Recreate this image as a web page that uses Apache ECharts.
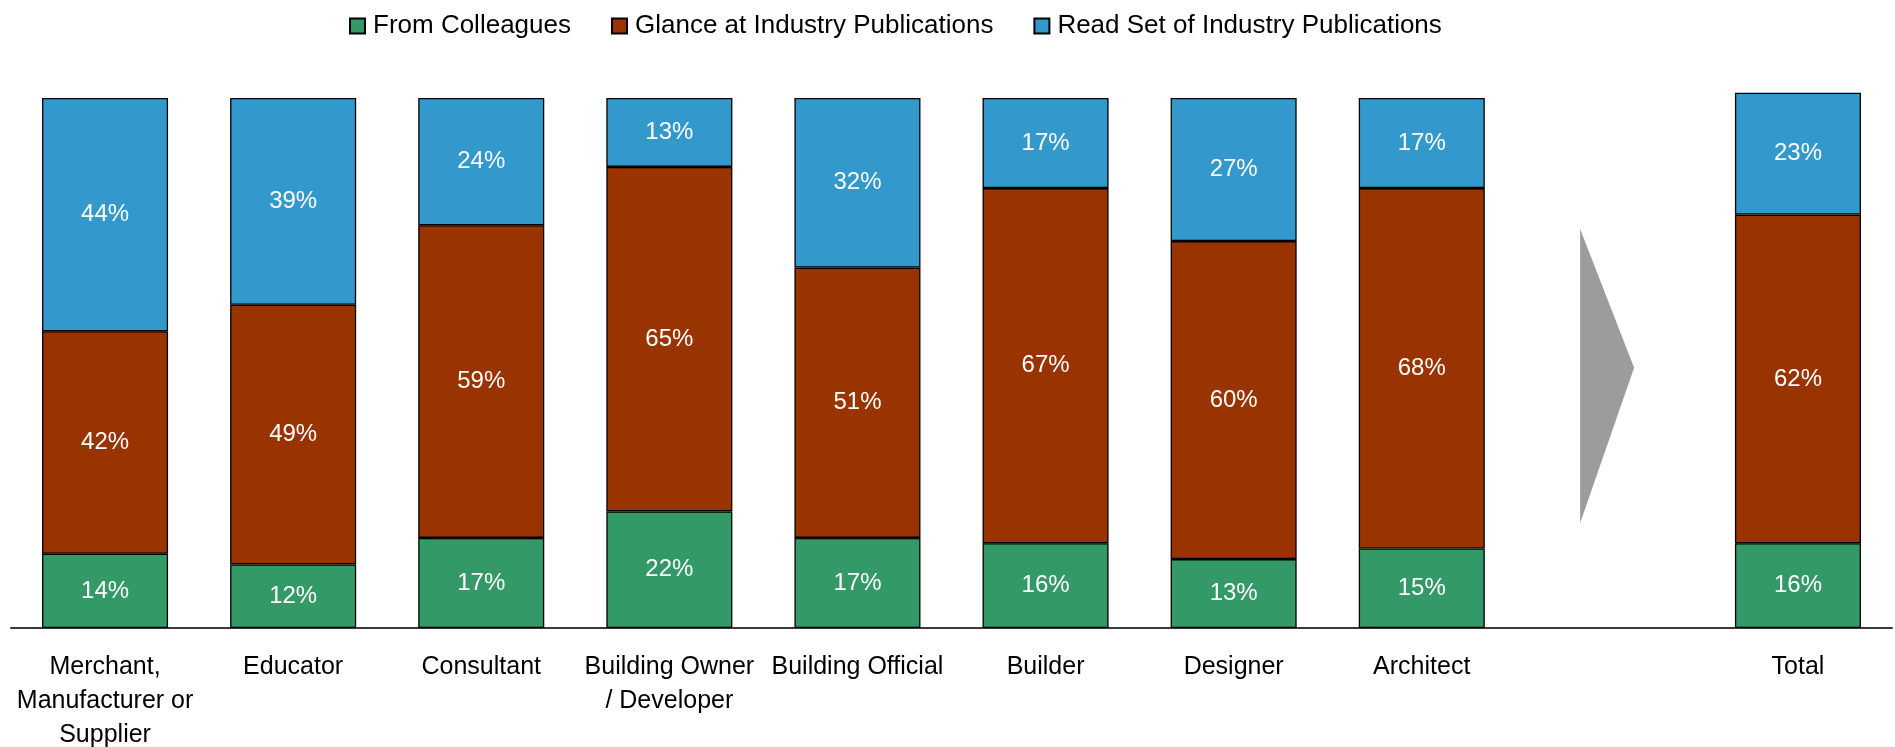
<!DOCTYPE html>
<html>
<head>
<meta charset="utf-8">
<script src="https://cdn.jsdelivr.net/npm/echarts@6/dist/echarts.min.js"></script>
<style>
  html, body { margin: 0; padding: 0; background: #ffffff; }
  #chart { width: 1895px; height: 747px; }
</style>
</head>
<body>
<div id="chart"></div>
<script>
// Where people learn about new products, by respondent type (share of each group)
const categories = [
  'Merchant,\nManufacturer or\nSupplier',
  'Educator',
  'Consultant',
  'Building Owner\n/ Developer',
  'Building Official',
  'Builder',
  'Designer',
  'Architect',
  '',
  'Total'
];
const fromColleagues = [14, 12, 17, 22, 17, 16, 13, 15, null, 16];
const glanceAtPublications = [42, 49, 59, 65, 51, 67, 60, 68, null, 62];
const readSetOfPublications = [44, 39, 24, 13, 32, 17, 27, 17, null, 23];

// The empty slot before "Total" holds a grey chevron pointing at the total bar
const arrowSlot = [[8, 50]];

const FONT = '"Liberation Sans", Arial, Helvetica, sans-serif';

const chart = echarts.init(document.getElementById('chart'), null, { renderer: 'canvas' });

function barSeries(name, data, color) {
  return {
    name: name,
    type: 'bar',
    stack: 'share',
    data: data,
    barWidth: '67%',
    clip: false,
    itemStyle: { color: color, borderColor: '#000000', borderWidth: 1.3 },
    label: {
      show: true,
      position: 'inside',
      color: '#ffffff',
      fontFamily: FONT,
      fontSize: 24,
      formatter: p => p.value + '%'
    },
    emphasis: { disabled: true }
  };
}

const option = {
  backgroundColor: '#ffffff',
  animation: false,
  textStyle: { fontFamily: FONT },
  legend: {
    left: 344,
    top: 8,
    itemWidth: 15,
    itemHeight: 15,
    itemGap: 40,
    icon: 'rect',
    textStyle: { fontFamily: FONT, fontSize: 26, color: '#000000', padding: [0, 0, 0, 3] },
    data: ['From Colleagues', 'Glance at Industry Publications', 'Read Set of Industry Publications']
  },
  grid: { left: 11, right: 3, top: 98, bottom: 119, containLabel: false, outerBoundsMode: 'none' },
  xAxis: {
    type: 'category',
    data: categories,
    axisTick: { show: false },
    axisLine: { show: true, lineStyle: { color: '#3a3a3a', width: 2 } },
    axisLabel: {
      interval: 0,
      margin: 22,
      color: '#000000',
      fontFamily: FONT,
      fontSize: 25,
      lineHeight: 34,
      align: 'center'
    }
  },
  yAxis: {
    type: 'value',
    min: 0,
    max: 100,
    show: false,
    splitLine: { show: false }
  },
  series: [
    barSeries('From Colleagues', fromColleagues, '#339966'),
    barSeries('Glance at Industry Publications', glanceAtPublications, '#993300'),
    barSeries('Read Set of Industry Publications', readSetOfPublications, '#3399cc'),
    {
      type: 'custom',
      silent: true,
      data: arrowSlot,
      encode: { x: 0, y: 1 },
      renderItem: function (params, api) {
        const idx = api.value(0);
        const band = api.size([1, 0])[0];
        const top = api.coord([idx, 75.3]);
        const bottom = api.coord([idx, 19.8]);
        const tip = api.coord([idx, 49.1]);
        const left = top[0] - band * 0.158;
        const right = top[0] + band * 0.129;
        return {
          type: 'polygon',
          shape: { points: [[left, top[1]], [right, tip[1]], [left, bottom[1]]] },
          style: { fill: '#9c9c9c' }
        };
      }
    }
  ]
};

chart.setOption(option);
</script>
</body>
</html>
